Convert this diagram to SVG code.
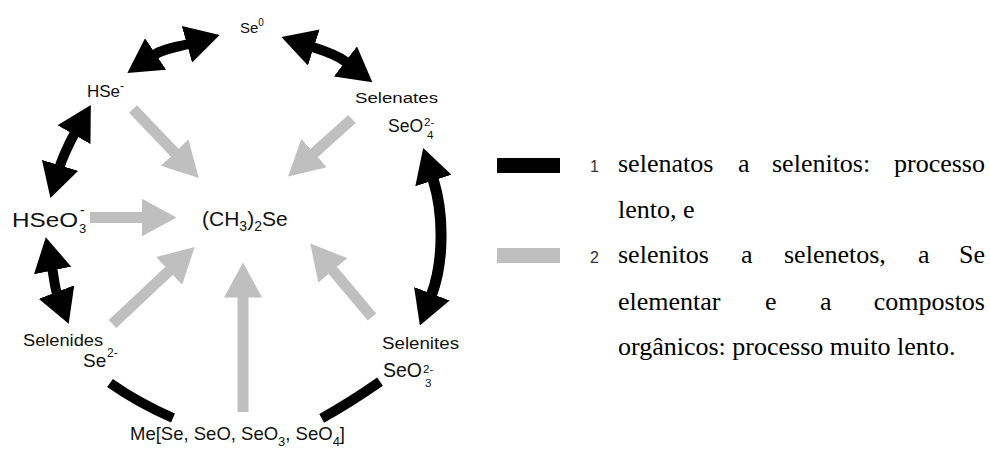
<svg xmlns="http://www.w3.org/2000/svg" width="990" height="454" viewBox="0 0 990 454">
<style>
.lab{font-family:'Liberation Sans',Arial,sans-serif;fill:#111}
.num{font-family:'Liberation Sans',Arial,sans-serif;font-size:16px;fill:#333}
.blk{fill:none;stroke:#000;stroke-width:10}
.dbl{marker-start:url(#hb);marker-end:url(#hb)}
.gry{fill:none;stroke:#bfbfbf;stroke-width:11;marker-end:url(#hg)}
</style>
<defs>
<marker id="hb" viewBox="0 0 34 38" markerWidth="34" markerHeight="38" refX="0.5" refY="19" orient="auto-start-reverse" markerUnits="userSpaceOnUse"><path d="M0,0L34,19L0,38z" fill="#000"/></marker>
<marker id="hg" viewBox="0 0 35 38" markerWidth="35" markerHeight="38" refX="0.5" refY="19" orient="auto" markerUnits="userSpaceOnUse"><path d="M0,0L35,19L0,38z" fill="#bfbfbf"/></marker>
</defs>
<rect width="990" height="454" fill="#fff"/>
<g id="connectors">
<path class="blk dbl" d="M155.2,54.3 C164.3,48.2 176.8,47.2 187.4,44.2"/>
<path class="blk dbl" d="M313.3,47.3 C323.8,50.7 337.1,55 345.8,61.7"/>
<path class="blk dbl" d="M74.2,134.2 C70.2,141.2 62.3,158.1 60,165.8"/>
<path class="blk dbl" d="M52.5,270 C53.5,274.9 54.9,287.8 56.7,292.5"/>
<path class="blk dbl" style="stroke-width:11" d="M433.3,180 C443.8,213.2 444,261.6 431.7,294.2"/>
<path class="blk" d="M110,383 Q138.5,403 173,418"/>
<path class="blk" d="M321.7,418.3 Q349,403.4 380,381.7"/>
<path class="gry" d="M133,109 L175,153"/>
<path class="gry" d="M352,119 L313.7,153.4"/>
<path class="gry" d="M90,217.5 L142,217.5"/>
<path class="gry" d="M112.5,324 L169.5,270.6"/>
<path class="gry" d="M243,412 L243,297"/>
<path class="gry" d="M372,317 L332.5,270"/>
</g>
<g id="se0"><text class="lab" x="240" y="33" font-size="15">Se<tspan font-size="10" dy="-7">0</tspan></text></g>
<g id="hse"><text class="lab" x="87" y="97" font-size="17">HSe<tspan font-size="12" dy="-7">-</tspan></text></g>
<g id="selenates">
<text class="lab" x="355" y="103" font-size="15.5" textLength="83" lengthAdjust="spacingAndGlyphs">Selenates</text>
<text class="lab" x="388" y="131.7" font-size="17.5">SeO</text>
<text class="lab" x="424" y="126" font-size="11.5">2-</text>
<text class="lab" x="427" y="139" font-size="11.5">4</text>
</g>
<g id="hseo3">
<text class="lab" x="12" y="227" font-size="20" textLength="66" lengthAdjust="spacingAndGlyphs">HSeO</text>
<text class="lab" x="80" y="215" font-size="14">-</text>
<text class="lab" x="79" y="233" font-size="13">3</text>
</g>
<g id="dimethylselenide"><text class="lab" x="202" y="226" font-size="21">(CH<tspan font-size="14" dy="5">3</tspan><tspan dy="-5">)</tspan><tspan font-size="14" dy="5">2</tspan><tspan dy="-5">Se</tspan></text></g>
<g id="selenides">
<text class="lab" x="23" y="346" font-size="16" textLength="80" lengthAdjust="spacingAndGlyphs">Selenides</text>
<text class="lab" x="83" y="367" font-size="19">Se</text>
<text class="lab" x="107" y="357" font-size="12">2-</text>
</g>
<g id="selenites">
<text class="lab" x="382" y="349" font-size="16" textLength="77" lengthAdjust="spacingAndGlyphs">Selenites</text>
<text class="lab" x="383" y="376.7" font-size="19.5">SeO</text>
<text class="lab" x="423" y="373" font-size="11.5">2-</text>
<text class="lab" x="425" y="387" font-size="11.5">3</text>
</g>
<g id="methylated"><text class="lab" x="130" y="440" font-size="18.5">Me[Se, SeO, SeO<tspan font-size="13" dy="6">3</tspan><tspan dy="-6">, SeO</tspan><tspan font-size="13" dy="6">4</tspan><tspan dy="-6">]</tspan></text></g>
<g id="legend" font-family="Liberation Serif, Times New Roman, DejaVu Serif, serif" font-size="26" fill="#000">
<rect x="497" y="158" width="63" height="15" fill="#000"/>
<rect x="497" y="248" width="63" height="15" fill="#bfbfbf"/>
<text class="num" x="590" y="172">1</text>
<text class="num" x="590" y="263">2</text>
<text y="172"><tspan x="618">selenatos</tspan> <tspan x="738">a</tspan> <tspan x="772">selenitos:</tspan> <tspan x="985" text-anchor="end">processo</tspan></text>
<text x="618" y="218">lento, e</text>
<text y="263"><tspan x="618">selenitos</tspan> <tspan x="741">a</tspan> <tspan x="784">selenetos,</tspan> <tspan x="918">a</tspan> <tspan x="985" text-anchor="end">Se</tspan></text>
<text y="310"><tspan x="618">elementar</tspan> <tspan x="765">e</tspan> <tspan x="820">a</tspan> <tspan x="985" text-anchor="end">compostos</tspan></text>
<text x="618" y="355">orgânicos: processo muito lento.</text>
</g>
</svg>
